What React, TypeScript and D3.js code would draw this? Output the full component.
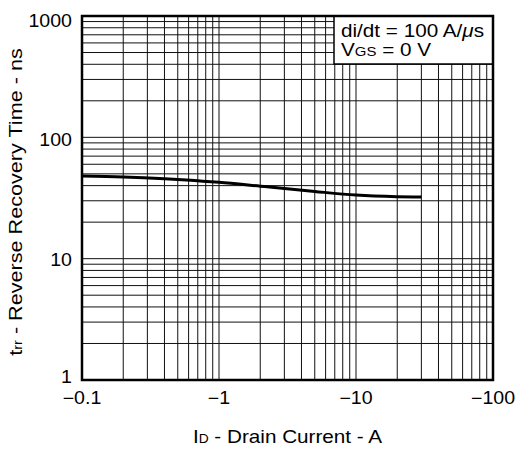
import React from 'react';
import * as d3 from 'd3';

const xTickValues = [0.1, 1, 10, 100];
const xTickLabels = ['\u22120.1', '\u22121', '\u221210', '\u2212100'];
const yTickValues = [1, 10, 100, 1000];
const yTickLabels = ['1', '10', '100', '1000'];
const currentA = [0.1, 0.2, 0.4, 0.7, 1, 2, 3, 5, 10, 20, 30];
const trrNs = [48, 47.2, 45.6, 43.8, 42.6, 39.6, 37.9, 35.8, 33.4, 32.4, 32.2];

const W = 519;
const H = 449;
const L = 82, R = 493, T = 16, B = 380;
const FONT = "'Liberation Sans', Arial, Helvetica, sans-serif";

function minorTicks(lo: number, hi: number): number[] {
  const out: number[] = [];
  for (let d = Math.floor(Math.log10(lo)); d < Math.ceil(Math.log10(hi)); d++) {
    for (let k = 1; k <= 9; k++) {
      const v = k * Math.pow(10, d);
      if (v > lo * 1.0001 && v < hi * 0.9999) out.push(v);
    }
  }
  return out;
}

function SText({ x, y, rot = 0, size, sx = 1.15, anchor = 'start', children }: any) {
  return (
    <g transform={`translate(${x},${y}) rotate(${rot}) scale(${sx},1)`}>
      <text x={0} y={0} fontSize={size} textAnchor={anchor} fontFamily={FONT} fill="#000">
        {children}
      </text>
    </g>
  );
}

export default function App() {
  const x = d3.scaleLog().domain([0.1, 100]).range([L, R]);
  const y = d3.scaleLog().domain([1, 1000]).range([B, T]);
  const xs = minorTicks(0.1, 100);
  const ys = minorTicks(1, 1000);
  const pts: [number, number][] = currentA.map((c, i) => [x(c), y(trrNs[i])]);
  const line = d3.line().curve(d3.curveMonotoneX)(pts) as string;

  return (
    <svg width={W} height={H} style={{ position: 'absolute', left: 0, top: 0, background: '#fff' }}>
      <rect x={0} y={0} width={W} height={H} fill="#fff" />
      <g stroke="#111" strokeWidth={1}>
        {xs.map((v, i) => (
          <line key={'x' + i} x1={x(v)} x2={x(v)} y1={T} y2={B} />
        ))}
        {ys.map((v, i) => (
          <line key={'y' + i} x1={L} x2={R} y1={y(v)} y2={y(v)} />
        ))}
      </g>
      <rect x={334} y={T} width={R - 334} height={64 - T} fill="#fff" stroke="#000" strokeWidth={1.5} />
      <path d={line} fill="none" stroke="#000" strokeWidth={3} />
      <rect x={L} y={T} width={R - L} height={B - T} fill="none" stroke="#000" strokeWidth={2.5} />
      {xTickValues.map((v, i) => (
        <SText key={'xl' + i} x={x(v)} y={403.5} size={17.5} sx={1.12} anchor="middle">{xTickLabels[i]}</SText>
      ))}
      {yTickValues.map((v, i) => (
        <SText key={'yl' + i} x={72} y={v === 1 ? 383 : y(v) + 5.2 + 1.8 * Math.log10(v)} size={17.5} sx={1.12} anchor="end">{yTickLabels[i]}</SText>
      ))}
      <SText x={(L + R) / 2} y={443} size={18} anchor="middle">
        <tspan>I</tspan><tspan fontSize={12}>D</tspan><tspan> - Drain Current - A</tspan>
      </SText>
      <SText x={22} y={(T + B) / 2 + 4} rot={-90} size={18.8} anchor="middle">
        <tspan>t</tspan><tspan fontSize={12.5}>rr</tspan><tspan> - Reverse Recovery Time - ns</tspan>
      </SText>
      <SText x={341} y={37} size={18}>di/dt = 100 A/<tspan fontStyle="italic">{'\u03bc'}</tspan>s</SText>
      <SText x={341} y={56} size={18}>
        <tspan>V</tspan><tspan fontSize={13}>GS</tspan><tspan> = 0 V</tspan>
      </SText>
    </svg>
  );
}
